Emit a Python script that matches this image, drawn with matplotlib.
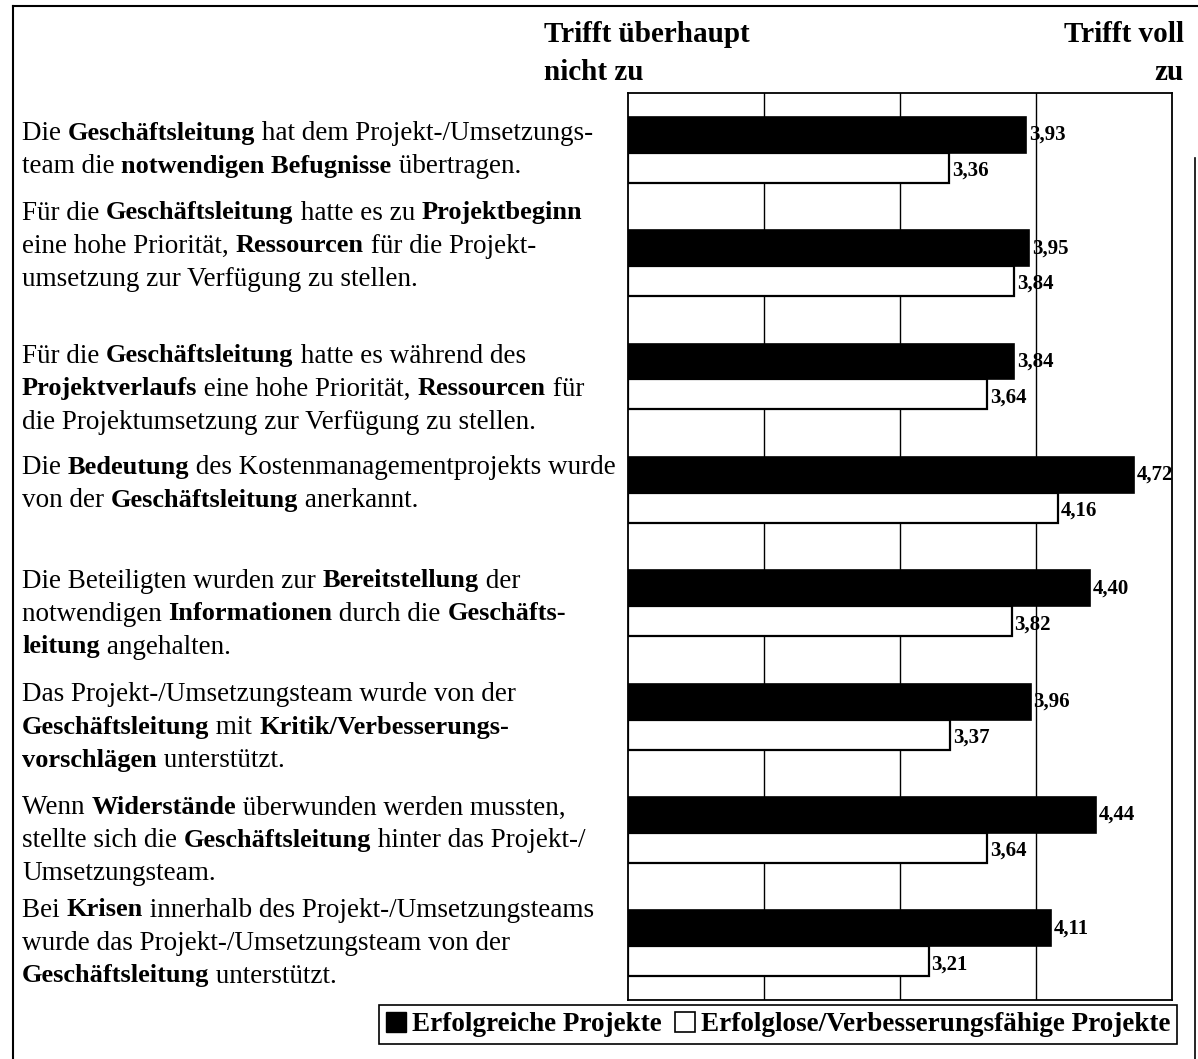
import matplotlib
matplotlib.use("Agg")
import matplotlib.pyplot as plt
from matplotlib.patches import Patch
from matplotlib.lines import Line2D
import numpy as np

# statement texts, split into (text, bold) runs per line
statements = [
    [[("Die ", 0), ("Geschäftsleitung", 1), (" hat dem Projekt-/Umsetzungs-", 0)],
     [("team die ", 0), ("notwendigen Befugnisse", 1), (" übertragen.", 0)]],
    [[("Für die ", 0), ("Geschäftsleitung", 1), (" hatte es zu ", 0), ("Projektbeginn", 1)],
     [("eine hohe Priorität, ", 0), ("Ressourcen", 1), (" für die Projekt-", 0)],
     [("umsetzung zur Verfügung zu stellen.", 0)]],
    [[("Für die ", 0), ("Geschäftsleitung", 1), (" hatte es während des", 0)],
     [("Projektverlaufs", 1), (" eine hohe Priorität, ", 0), ("Ressourcen", 1), (" für", 0)],
     [("die Projektumsetzung zur Verfügung zu stellen.", 0)]],
    [[("Die ", 0), ("Bedeutung", 1), (" des Kostenmanagementprojekts wurde", 0)],
     [("von der ", 0), ("Geschäftsleitung", 1), (" anerkannt.", 0)]],
    [[("Die Beteiligten wurden zur ", 0), ("Bereitstellung", 1), (" der", 0)],
     [("notwendigen ", 0), ("Informationen", 1), (" durch die ", 0), ("Geschäfts-", 1)],
     [("leitung", 1), (" angehalten.", 0)]],
    [[("Das Projekt-/Umsetzungsteam wurde von der", 0)],
     [("Geschäftsleitung", 1), (" mit ", 0), ("Kritik/Verbesserungs-", 1)],
     [("vorschlägen", 1), (" unterstützt.", 0)]],
    [[("Wenn ", 0), ("Widerstände", 1), (" überwunden werden mussten,", 0)],
     [("stellte sich die ", 0), ("Geschäftsleitung", 1), (" hinter das Projekt-/", 0)],
     [("Umsetzungsteam.", 0)]],
    [[("Bei ", 0), ("Krisen", 1), (" innerhalb des Projekt-/Umsetzungsteams", 0)],
     [("wurde das Projekt-/Umsetzungsteam von der", 0)],
     [("Geschäftsleitung", 1), (" unterstützt.", 0)]],
]

erfolgreich = [3.93, 3.95, 3.84, 4.72, 4.40, 3.96, 4.44, 4.11]
erfolglos = [3.36, 3.84, 3.64, 4.16, 3.82, 3.37, 3.64, 3.21]
series_names = ["Erfolgreiche Projekte", "Erfolglose/Verbesserungsfähige Projekte"]
scale_left = ["Trifft überhaupt", "nicht zu"]
scale_right = ["Trifft voll", "zu"]

SERIF = "Liberation Serif"
SIZE_NORMAL = 19.5
SIZE_BOLD = 19
W, H = 1198, 1059
fig = plt.figure(figsize=(W / 100, H / 100), dpi=100)
fig.patch.set_facecolor("white")

# plot box in pixel terms
x0, x1, y0, y1 = 628, 1172, 93, 1000
ax = fig.add_axes([x0 / W, 1 - y1 / H, (x1 - x0) / W, (y1 - y0) / H])

n = len(erfolgreich)
ypos = np.arange(n)
succ = np.array(erfolgreich)
fail = np.array(erfolglos)

ax.barh(ypos - 0.132, succ - 1, left=1, height=0.317, color="black",
        edgecolor="black", linewidth=1.2, zorder=3)
ax.barh(ypos + 0.159, fail - 1, left=1, height=0.265, color="white",
        edgecolor="black", linewidth=1.6, zorder=3)

for y, v in zip(ypos - 0.132, succ):
    ax.text(v + 0.02, y, f"{v:.2f}".replace(".", ","), va="center", ha="left",
            fontsize=15, fontweight="bold", family=SERIF, zorder=4)
for y, v in zip(ypos + 0.185, fail):
    ax.text(v + 0.02, y, f"{v:.2f}".replace(".", ","), va="center", ha="left",
            fontsize=15, fontweight="bold", family=SERIF, zorder=4)

ax.set_xlim(1, 5)
ax.set_ylim(n - 0.5, -0.5)
ax.set_xticks([2, 3, 4])
ax.set_yticks([])
ax.xaxis.grid(True, color="black", linewidth=1.0)
ax.tick_params(axis="x", length=0, labelbottom=False)
for s in ax.spines.values():
    s.set_linewidth(1.3)
    s.set_color("black")

# scale end labels
fig.text(544 / W, 1 - 34 / H, scale_left[0], ha="left", va="center",
         fontsize=21, fontweight="bold", family=SERIF)
fig.text(544 / W, 1 - 72 / H, scale_left[1], ha="left", va="center",
         fontsize=21, fontweight="bold", family=SERIF)
fig.text(1184 / W, 1 - 34 / H, scale_right[0], ha="right", va="center",
         fontsize=21, fontweight="bold", family=SERIF)
fig.text(1184 / W, 1 - 72 / H, scale_right[1], ha="right", va="center",
         fontsize=21, fontweight="bold", family=SERIF)

# left statements with mixed bold runs
renderer = fig.canvas.get_renderer()


def run_width(txt, bold):
    w = 0
    for s, sign in (("|" + txt + "|", 1), ("||", -1)):
        t = fig.text(0, 0, s, fontsize=SIZE_BOLD if bold else SIZE_NORMAL,
                     family=SERIF, fontweight="bold" if bold else "normal")
        w += sign * t.get_window_extent(renderer).width
        t.remove()
    return w


# first text line relative to the top of each black bar (px)
first_line_offset = [14, -20, 10, 8, 8, 8, 8, -3]
line_h = 33
grp_h = (y1 - y0) / n
for i, lines in enumerate(statements):
    yline = y0 + grp_h * (i + 0.5) - 33 + first_line_offset[i]
    for line in lines:
        xc = 22
        for txt, bold in line:
            fig.text(xc / W, 1 - yline / H, txt, ha="left", va="center_baseline",
                     fontsize=SIZE_BOLD if bold else SIZE_NORMAL, family=SERIF,
                     fontweight="bold" if bold else "normal")
            xc += run_width(txt, bold)
        yline += line_h

# legend
handles = [Patch(facecolor="black", edgecolor="black"),
           Patch(facecolor="white", edgecolor="black", linewidth=1.2)]
leg = fig.legend(handles, series_names, ncol=2, loc="upper right",
                 bbox_to_anchor=(1177 / W, 1 - 1005 / H), frameon=True,
                 fancybox=False, edgecolor="black", framealpha=1,
                 handlelength=0.75, handleheight=0.75, handletextpad=0.2,
                 columnspacing=0.5, borderpad=0.25, borderaxespad=0,
                 prop={"family": SERIF, "weight": "bold", "size": 19.5})
leg.get_frame().set_linewidth(1.2)

# page frame
fig.add_artist(Line2D([13 / W, 13 / W], [0, 1 - 6 / H], color="black", lw=1.5))
fig.add_artist(Line2D([13 / W, 1], [1 - 6 / H, 1 - 6 / H], color="black", lw=1.5))
fig.add_artist(Line2D([1195 / W, 1195 / W], [0, 1 - 158 / H], color="black", lw=1.2))

fig.savefig("out.png", dpi=100)
